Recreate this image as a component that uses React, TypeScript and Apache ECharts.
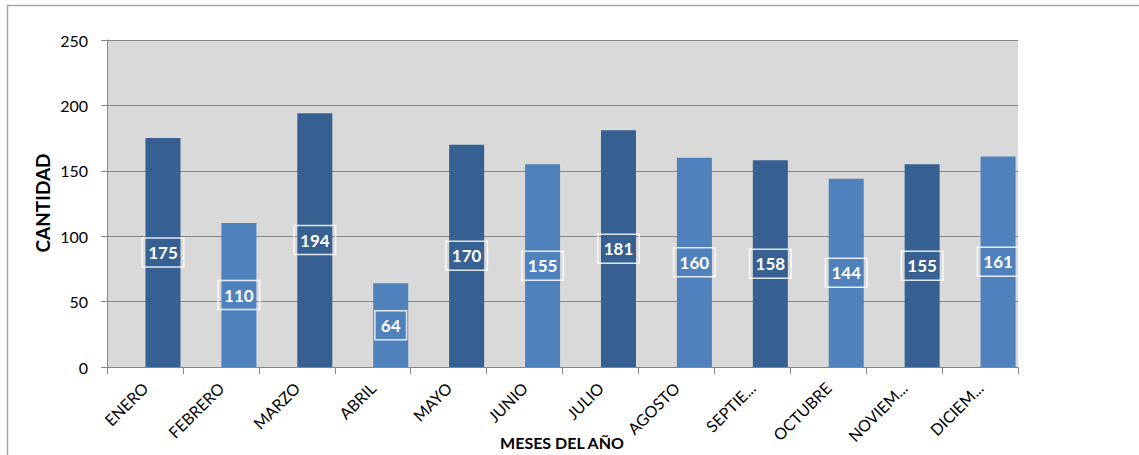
import React, { useEffect, useRef } from "react";
import * as echarts from "echarts";

const months = ["ENERO", "FEBRERO", "MARZO", "ABRIL", "MAYO", "JUNIO", "JULIO", "AGOSTO", "SEPTIE...", "OCTUBRE", "NOVIEM...", "DICIEM..."];
const cantidad = [175, 110, 194, 64, 170, 155, 181, 160, 158, 144, 155, 161];
const emptySeries = months.map(() => null);
const yTicks = { min: 0, max: 250, interval: 50 };
const yTitle = "CANTIDAD";
const xTitle = "MESES DEL AÑO";

const FONT = "Lato, 'Open Sans', sans-serif";

export default function App() {
  const ref = useRef<HTMLDivElement>(null);
  useEffect(() => {
    document.body.style.margin = "0";
    const chart = echarts.init(ref.current!, undefined, { renderer: "svg" });
    chart.setOption({
      animation: false,
      backgroundColor: "#ffffff",
      grid: { left: 107, right: 121, top: 40, bottom: 88, show: true, backgroundColor: "#d9d9d9", borderWidth: 0 },
      xAxis: {
        type: "category",
        data: months,
        axisLine: { show: true, lineStyle: { color: "#868686", width: 1 } },
        axisTick: { show: true, alignWithLabel: false, length: 7, lineStyle: { color: "#868686" } },
        axisLabel: { rotate: 45, margin: 18, fontSize: 16, color: "#000", fontFamily: FONT, interval: 0 },
      },
      yAxis: {
        type: "value",
        min: yTicks.min,
        max: yTicks.max,
        interval: yTicks.interval,
        axisLine: { show: true, lineStyle: { color: "#868686" } },
        axisTick: { show: true, inside: false, length: 6, lineStyle: { color: "#868686" } },
        axisLabel: { fontSize: 16, color: "#000", fontFamily: FONT, margin: 19 },
        splitLine: { show: true, lineStyle: { color: "#868686", width: 1 } },
      },
      series: [
        {
          type: "bar",
          data: emptySeries,
          barWidth: 35,
          barGap: "3%",
        },
        {
          type: "bar",
          data: cantidad,
          barWidth: 35,
          barGap: "3%",
          itemStyle: {
            color: (p: any) => (p.dataIndex % 2 === 0 ? "#366092" : "#4f81bd"),
          },
          label: {
            show: true,
            position: "inside",
            color: "#fff",
            fontWeight: "bold",
            fontSize: 17,
            fontFamily: FONT,
            borderColor: "rgba(255,255,255,0.85)",
            borderWidth: 1.5,
            padding: [7, 6, 5, 6],
          },
        },
      ],
      graphic: [
        {
          type: "rect",
          shape: { x: 7.5, y: 5.5, width: 1300, height: 600 },
          style: { fill: "none", stroke: "#a6a6a6", lineWidth: 1.5 },
          z: 100,
        },
        {
          type: "text",
          x: 562,
          y: 442,
          style: { text: xTitle, fontSize: 16, fontWeight: "bold", fill: "#000", fontFamily: FONT, align: "center", verticalAlign: "middle" },
        },
        {
          type: "text",
          x: 42,
          y: 203,
          rotation: Math.PI / 2,
          style: { text: yTitle, fontSize: 19, fontWeight: "bold", fill: "#000", fontFamily: FONT, align: "center", verticalAlign: "middle" },
        },
      ],
    });
    return () => chart.dispose();
  }, []);
  return <div ref={ref} style={{ position: "fixed", left: 0, top: 0, width: 1139, height: 455 }} />;
}
